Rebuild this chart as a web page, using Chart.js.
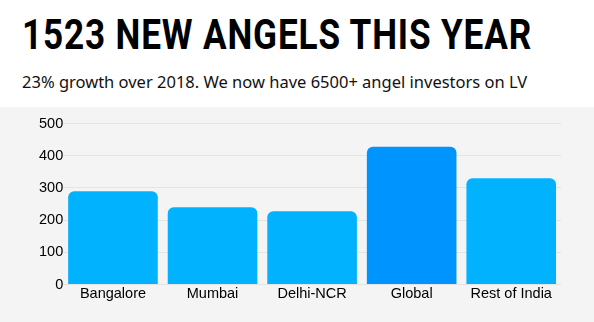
<!DOCTYPE html>
<html>
<head>
<meta charset="utf-8">
<script src="https://cdn.jsdelivr.net/npm/chart.js@4"></script>
<style>
  body { margin: 0; background: #fff; width: 594px; height: 322px; overflow: hidden; }
  h1 {
    margin: 0; position: absolute; left: 22px; top: 14px; white-space: nowrap;
    font-family: "Roboto", sans-serif; font-weight: bold; transform-origin: 0 0;
    font-size: 42px; letter-spacing: 1px; color: #000; line-height: 42px;
  }
  p {
    margin: 0; position: absolute; left: 22px; top: 70px; white-space: nowrap;
    font-family: "Noto Sans", sans-serif; font-size: 16.5px; color: #111;
  }
  #box { position: absolute; left: 0; top: 107px; width: 594px; height: 215px; background: #f4f4f4; }
</style>
</head>
<body>
<h1 id="title">1523 NEW ANGELS THIS YEAR</h1>
<p>23% growth over 2018. We now have 6500+ angel investors on LV</p>
<div id="box"><canvas id="chart0"></canvas></div>
<script>
// squeeze the heading into the condensed width of the original
const title = document.getElementById('title');
title.style.transform = 'scaleX(' + (510 / title.getBoundingClientRect().width) + ')';

// regions and new angels
const regions = ['Bangalore', 'Mumbai', 'Delhi-NCR', 'Global', 'Rest of India'];
const angels = [290, 240, 228, 428, 330];
const barColors = ['#00B2FF', '#00B2FF', '#00B2FF', '#0094FF', '#00B2FF'];

const ctx = document.getElementById('chart0').getContext('2d');
const chart = new Chart(ctx, {
    type: 'bar',
    data: {
        labels: regions,
        datasets: [{
            data: angels,
            backgroundColor: barColors,
            borderRadius: { topLeft: 6, topRight: 6 },
            borderSkipped: 'bottom',
            barPercentage: 0.9,
            categoryPercentage: 1
        }]
    },
    options: {
        responsive: true,
        maintainAspectRatio: false,
        animation: false,
        layout: {
            padding: { left: 39, right: 33, top: 16.5, bottom: 18 }
        },
        plugins: {
            legend: { display: false },
            tooltip: { enabled: false }
        },
        scales: {
            x: {
                grid: { display: false, drawTicks: false, tickLength: 0 },
                border: { display: false },
                ticks: { color: '#000', font: { family: 'Liberation Sans', size: 14.5 }, padding: 1 }
            },
            y: {
                min: 0,
                max: 500,
                grid: { color: '#e4e4e4', drawTicks: false },
                border: { display: false },
                ticks: { stepSize: 100, color: '#000', font: { family: 'Liberation Sans', size: 14.5 }, padding: 0 }
            }
        }
    }
});
</script>
</body>
</html>
